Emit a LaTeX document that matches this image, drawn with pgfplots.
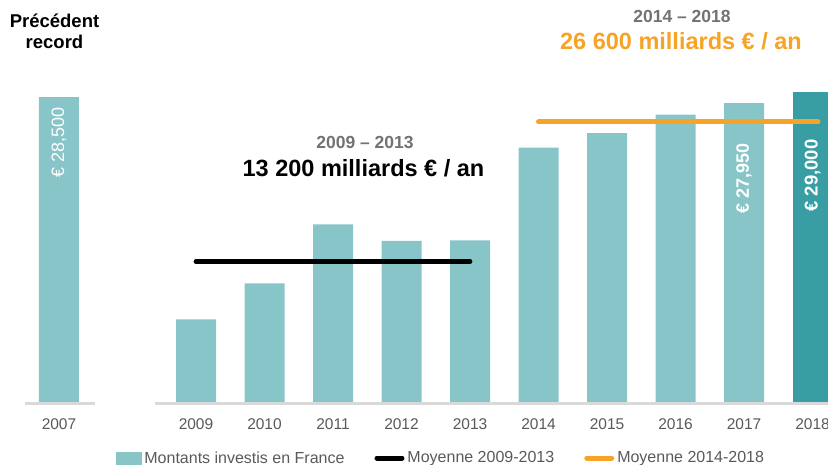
\documentclass[border=0pt]{standalone}
\usepackage{pgfplots}
\pgfplotsset{compat=1.18}
\usepackage{fontspec}
\setmainfont{Liberation Sans}
\definecolor{tealc}{HTML}{88C5C8}
\definecolor{tealdark}{HTML}{389EA3}
\definecolor{orangec}{HTML}{F7A325}
\definecolor{hdrgray}{HTML}{767171}
\definecolor{tickgray}{HTML}{595959}
\definecolor{basegray}{HTML}{D9D9D9}
\begin{document}
\begin{tikzpicture}
\begin{axis}[
  scale only axis, width=828bp, height=403.5bp,
  xmin=2006.1387, xmax=2018.2263, ymin=0, ymax=37535,
  clip=false,
  axis line style={draw=none},
  ytick=\empty,
  xtick={2007,2009,2010,2011,2012,2013,2014,2015,2016,2017,2018},
  xticklabels={2007,2009,2010,2011,2012,2013,2014,2015,2016,2017,2018},
  major tick length=0pt,
  xticklabel style={font=\fontsize{15.5bp}{18bp}\selectfont, text=tickgray, anchor=base, yshift=-25.5bp},
  legend columns=3,
  legend style={at={(axis cs:2007.8321,-5070)}, anchor=west, draw=none, fill=none,
    inner sep=0pt, outer sep=0pt,
    font=\fontsize{16bp}{19bp}\selectfont, text=tickgray,
    nodes={inner sep=0pt},
    /tikz/every odd column/.append style={column sep=3bp},
    /tikz/every even column/.append style={column sep=30bp}},
  legend cell align=left,
]
\addlegendimage{legend image code/.code={\fill[tealc] (0bp,-6bp) rectangle (25bp,6bp);}}
\addlegendentry{Montants investis en France}
\addlegendimage{legend image code/.code={\draw[black, line width=5bp, line cap=round] (2.5bp,0) -- (27.5bp,0);}}
\addlegendentry{Moyenne 2009-2013}
\addlegendimage{legend image code/.code={\draw[orangec, line width=5bp, line cap=round] (2.5bp,0) -- (27.5bp,0);}}
\addlegendentry{Moyenne 2014-2018}

\addplot[ybar, bar width=40bp, bar shift=0pt, fill=tealc, draw=none, forget plot]
  coordinates {(2007,28500)(2009,7830)(2010,11180)(2011,16670)(2012,15120)(2013,15180)(2014,23800)(2015,25160)(2016,26870)(2017,27950)};
\addplot[ybar, bar width=40bp, bar shift=0pt, fill=tealdark, draw=none, forget plot]
  coordinates {(2018,29000)};
\addplot[basegray, line width=2.3bp, forget plot] coordinates {(2006.5037,0)(2007.5256,0)};
\addplot[basegray, line width=2.3bp, forget plot] coordinates {(2008.4015,0)(2018.5,0)};
\addplot[black, line width=4.8bp, line cap=round, forget plot] coordinates {(2009,13190)(2013,13190)};
\addplot[orangec, line width=5bp, line cap=round, forget plot] coordinates {(2014,26190)(2018.08,26190)};

\coordinate (tl) at (rel axis cs:0,1);
\coordinate (tr) at (rel axis cs:1,1);
\coordinate (bl) at (rel axis cs:0,0);
\end{axis}
\begin{scope}[shift={(tl)}, x=1bp, y=-1bp]
\node[anchor=base, font=\bfseries\fontsize{18.5bp}{22bp}\selectfont] at (54.5,28) {Précédent};
\node[anchor=base, font=\bfseries\fontsize{18.5bp}{22bp}\selectfont] at (54.5,49) {record};
\node[anchor=base, text=hdrgray, font=\bfseries\fontsize{17.5bp}{21bp}\selectfont] at (365,149) {2009 – 2013};
\node[anchor=base, font=\bfseries\fontsize{23.5bp}{28bp}\selectfont] at (363.5,177) {13 200 milliards € / an};
\node[anchor=base, text=hdrgray, font=\bfseries\fontsize{17.5bp}{21bp}\selectfont] at (682,22.7) {2014 – 2018};
\node[anchor=base, text=orangec, font=\bfseries\fontsize{23.5bp}{28bp}\selectfont] at (681,49.5) {26 600 milliards € / an};
\node[rotate=90, text=white, font=\fontsize{18bp}{21bp}\selectfont] at (59,142) {€ 28,500};
\node[rotate=90, text=white, font=\bfseries\fontsize{18bp}{21bp}\selectfont] at (744,178) {€ 27,950};
\node[rotate=90, text=white, font=\bfseries\fontsize{18.5bp}{21bp}\selectfont] at (812.5,175.5) {€ 29,000};
\end{scope}
\pgfresetboundingbox
\path[use as bounding box] (tl) rectangle ([yshift=-61.5bp]bl -| tr);
\end{tikzpicture}
\end{document}
